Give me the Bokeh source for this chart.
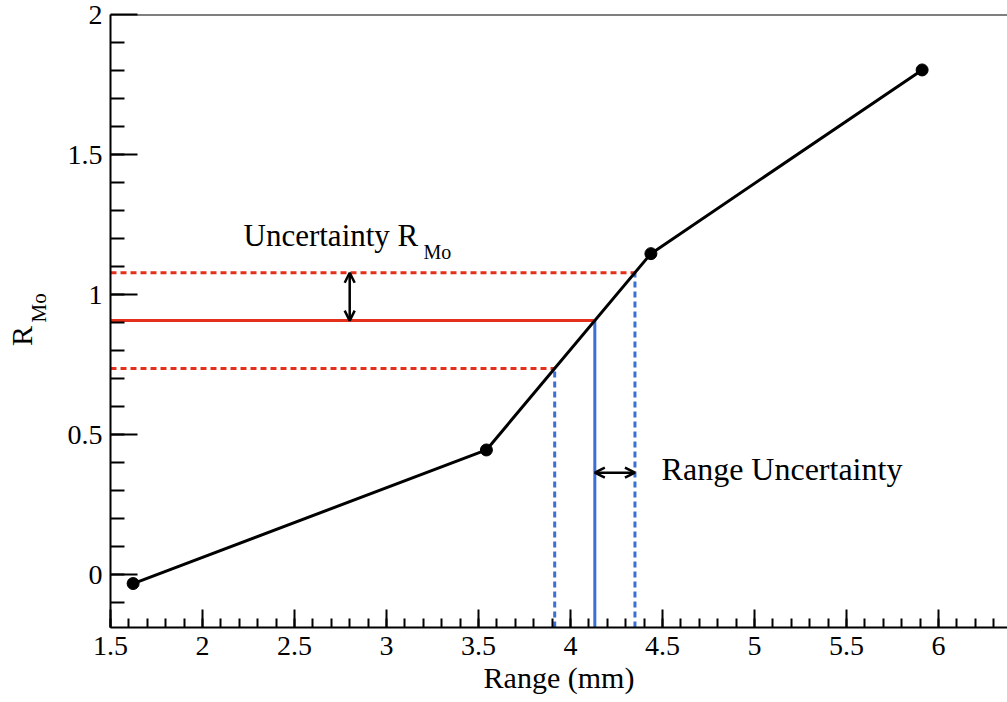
import numpy as np
from bokeh.plotting import figure
from bokeh.models import (FixedTicker, Span, Label, Arrow, OpenHead, LinearAxis)
from bokeh.embed import file_html
from bokeh.resources import INLINE

# Calibration points: range (mm) vs R_Mo
range_mm = [1.623, 3.543, 4.437, 5.911]
r_mo = [-0.032, 0.445, 1.146, 1.802]

# Measured R_Mo with its uncertainty
r_center = 0.907
r_err = 0.171

x_major = [1.5, 2.0, 2.5, 3.0, 3.5, 4.0, 4.5, 5.0, 5.5, 6.0]
y_major = [0.0, 0.5, 1.0, 1.5, 2.0]

FONT = "Liberation Serif"
RED = "#e4301a"
BLUE = "#3a6fd6"
NBSP = "\u00a0"

x_lo, x_hi = 1.5, 6.375
y_lo, y_hi = -0.189, 2.0

p = figure(width=1007, height=702, x_range=(x_lo, x_hi), y_range=(y_lo, y_hi),
           output_backend="svg", toolbar_location=None,
           min_border_left=110, min_border_right=0, min_border_top=14,
           min_border_bottom=75)
p.outline_line_color = None
p.xgrid.visible = False
p.ygrid.visible = False
p.background_fill_color = "white"
p.border_fill_color = "white"

# Axes: ticks pointing inwards, ROOT style
x_minor = [round(1.5 + 0.1 * i, 2) for i in range(49)]
y_minor = [round(-0.1 + 0.1 * i, 2) for i in range(21)]
p.xaxis.ticker = FixedTicker(ticks=x_major, minor_ticks=x_minor)
p.yaxis.ticker = FixedTicker(ticks=y_major, minor_ticks=y_minor)
p.xaxis.major_label_overrides = {t: f"{t:g}" for t in x_major}
p.yaxis.major_label_overrides = {t: f"{t:g}" for t in y_major}

for ax in (p.xaxis, p.yaxis):
    ax.axis_line_width = 2
    ax.axis_line_color = "black"
    ax.major_tick_line_width = 2
    ax.minor_tick_line_width = 2
    ax.major_tick_out = 0
    ax.minor_tick_out = 0
    ax.major_label_text_font = FONT
    ax.major_label_text_font_size = "28px"
    ax.major_label_text_color = "black"
    ax.axis_label_text_font = FONT
    ax.axis_label_text_font_style = "normal"
    ax.axis_label_text_color = "black"

p.xaxis.major_tick_in = 18
p.xaxis.minor_tick_in = 9
p.xaxis.major_label_standoff = 9
p.xaxis.axis_label = "Range (mm)"
p.xaxis.axis_label_text_font_size = "30px"
p.xaxis.axis_label_standoff = 3

p.yaxis.major_tick_in = 27
p.yaxis.minor_tick_in = 14
p.yaxis.major_label_standoff = 8
# subscript of the y title, shifted up along the axis
p.yaxis.axis_label = NBSP * 5 + "Mo"
p.yaxis.axis_label_text_font_size = "21px"
p.yaxis.axis_label_standoff = 14

# main letter of the y title, in its own label-only axis further out
r_axis = LinearAxis(axis_label="R" + NBSP * 4, ticker=FixedTicker(ticks=[]),
                    axis_line_color=None, major_tick_line_color=None,
                    minor_tick_line_color=None, axis_label_standoff=-14,
                    axis_label_text_font=FONT, axis_label_text_font_size="30px",
                    axis_label_text_font_style="normal", axis_label_text_color="black")
p.add_layout(r_axis, "left")

# top border line
p.add_layout(Span(location=y_hi, dimension="width", line_color="black", line_width=2))

# Interpolated range values for the measured R_Mo band
r_levels = [r_center - r_err, r_center, r_center + r_err]
rng_levels = list(np.interp(r_levels, r_mo, range_mm))

# Horizontal red lines (central solid, band dashed)
p.segment(x0=[x_lo], y0=[r_levels[1]], x1=[rng_levels[1]], y1=[r_levels[1]],
          line_color=RED, line_width=3)
p.segment(x0=[x_lo, x_lo], y0=[r_levels[0], r_levels[2]],
          x1=[rng_levels[0], rng_levels[2]], y1=[r_levels[0], r_levels[2]],
          line_color=RED, line_width=3, line_dash="6 4")

# Vertical blue lines down to the axis
p.segment(x0=[rng_levels[1]], y0=[y_lo], x1=[rng_levels[1]], y1=[r_levels[1]],
          line_color=BLUE, line_width=3)
p.segment(x0=[rng_levels[0], rng_levels[2]], y0=[y_lo, y_lo],
          x1=[rng_levels[0], rng_levels[2]], y1=[r_levels[0], r_levels[2]],
          line_color=BLUE, line_width=3, line_dash="6 4")

# Calibration curve
p.line(range_mm, r_mo, line_color="black", line_width=3)
p.scatter(range_mm, r_mo, size=12, color="black")

# Double-headed arrows
p.add_layout(Arrow(x_start=2.8, y_start=r_levels[1], x_end=2.8, y_end=r_levels[2],
                   line_width=2.5, line_color="black",
                   start=OpenHead(size=10, line_width=2.5),
                   end=OpenHead(size=10, line_width=2.5)))
p.add_layout(Arrow(x_start=rng_levels[1], y_start=0.364, x_end=rng_levels[2], y_end=0.364,
                   line_width=2.5, line_color="black",
                   start=OpenHead(size=10, line_width=2.5),
                   end=OpenHead(size=10, line_width=2.5)))

def add_text(x, y, text, size):
    p.add_layout(Label(x=x, y=y, text=text, text_font=FONT, text_font_size=size,
                       text_color="black", text_align="left",
                       text_baseline="alphabetic"))

add_text(2.223, 1.211, "Uncertainty R", "31px")
add_text(3.201, 1.151, "Mo", "20px")
add_text(4.495, 0.376, "Range Uncertainty", "32px")

open("out.html", "w").write(file_html(p, INLINE))
